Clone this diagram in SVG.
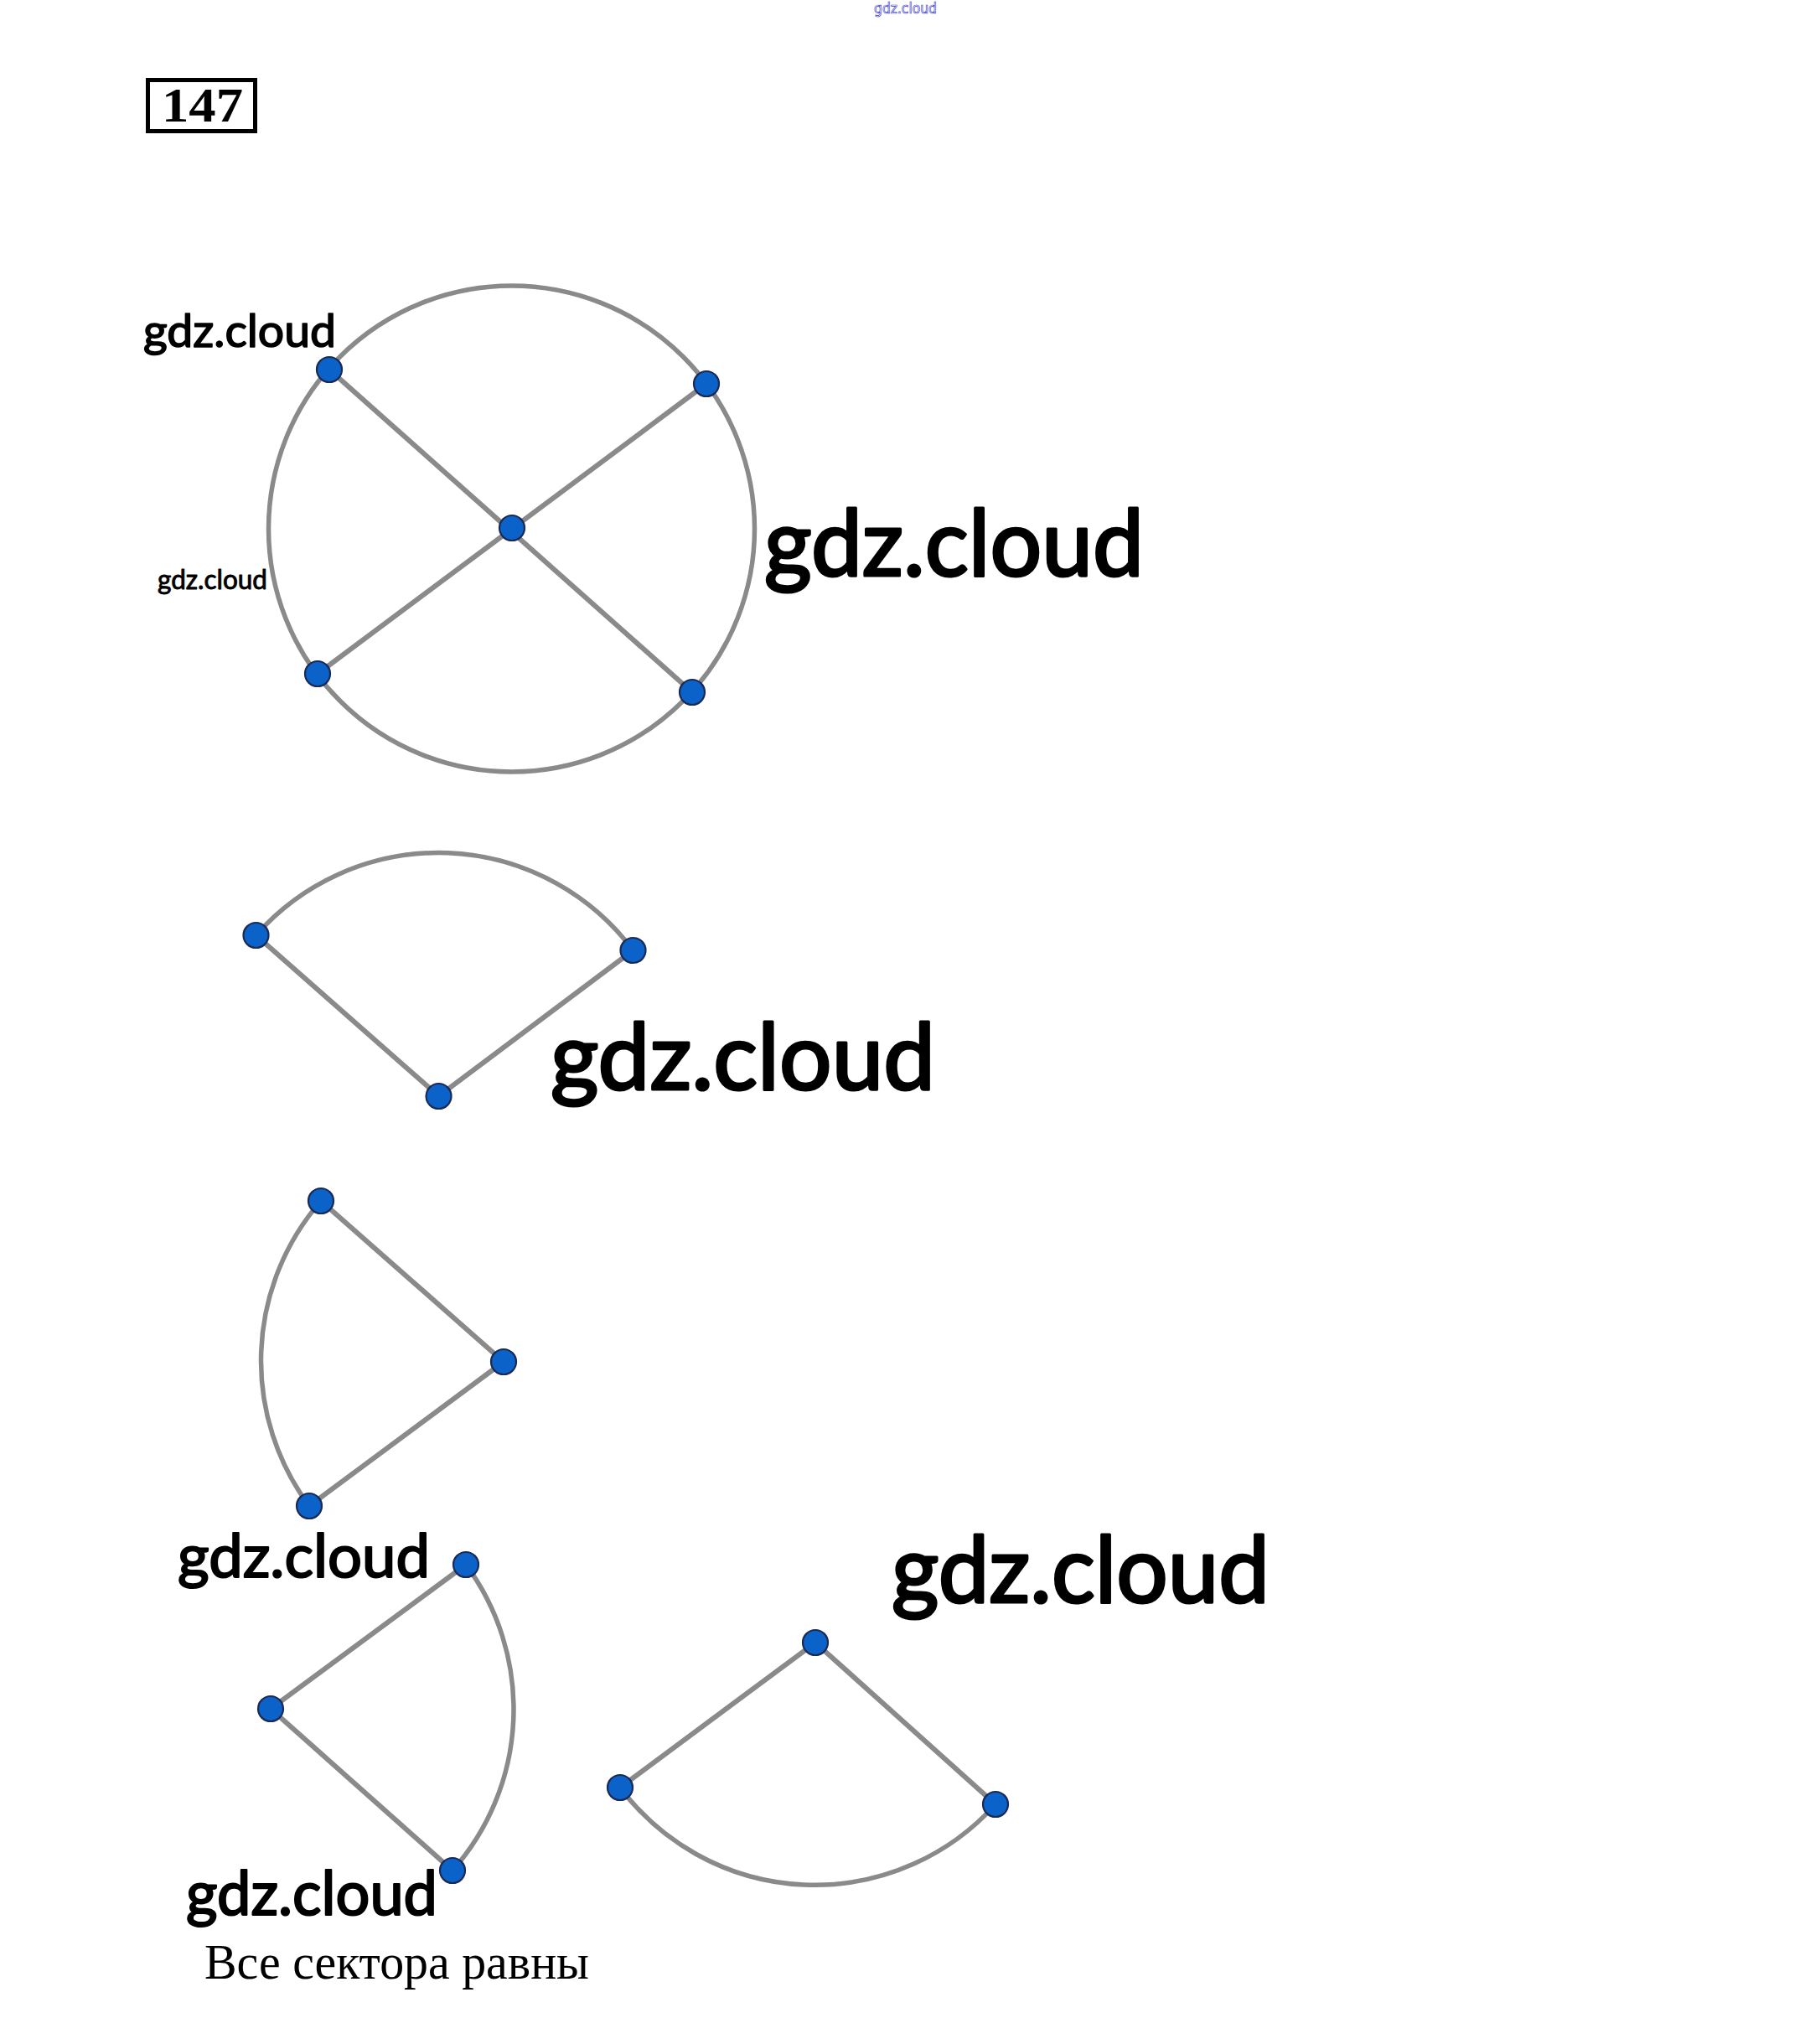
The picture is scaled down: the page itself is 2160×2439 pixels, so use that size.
<svg xmlns="http://www.w3.org/2000/svg" width="2160" height="2439" viewBox="0 0 2160 2439">
<style>
.edge{fill:none;stroke:#8a8a8a;stroke-width:6;stroke-linecap:round}
.arc{fill:none;stroke:#8a8a8a;stroke-width:5.5}
.pt{fill:#0b62c9;stroke:#1b2a55;stroke-width:2.2}
.wm{font-family:Lato,"Open Sans","Liberation Sans",sans-serif;fill:#000;stroke:#000;stroke-linejoin:round}
</style>
<rect width="2160" height="2439" fill="#fff"/>
<text x="1043" y="16" font-family="'DejaVu Sans',sans-serif" font-size="17" fill="#fff" stroke="#3a3acc" stroke-width="0.7" textLength="75" lengthAdjust="spacingAndGlyphs">gdz.cloud</text>
<g id="title">
<rect x="176.5" y="95.5" width="128" height="61" fill="none" stroke="#000" stroke-width="5"/>
<text x="193" y="145" font-family="'Liberation Serif',serif" font-weight="bold" font-size="56" textLength="97" lengthAdjust="spacingAndGlyphs">147</text>
</g>
<g id="connectors">
<circle class="arc" cx="610.5" cy="631" r="290"/>
<line class="edge" x1="393" y1="441" x2="826" y2="826"/>
<line class="edge" x1="843" y1="458" x2="379" y2="804"/>
<path class="arc" d="M305.5 1116 A290 290 0 0 1 755.5 1134"/>
<polyline class="edge" points="305.5,1116 523.5,1308 755.5,1134"/>
<path class="arc" d="M383 1433 A290 290 0 0 0 369 1797"/>
<polyline class="edge" points="383,1433 601,1625 369,1797"/>
<path class="arc" d="M556 1867 A290 290 0 0 1 540 2232"/>
<polyline class="edge" points="556,1867 323,2039 540,2232"/>
<path class="arc" d="M740 2133 A290 290 0 0 0 1188 2153"/>
<polyline class="edge" points="740,2133 973,1960 1188,2153"/>
</g>
<g id="circle-nodes">
<circle id="c-tl" class="pt" cx="393" cy="441" r="15"/>
<circle id="c-tr" class="pt" cx="843" cy="458" r="15"/>
<circle id="c-c" class="pt" cx="611" cy="630" r="15"/>
<circle id="c-bl" class="pt" cx="379" cy="804" r="15"/>
<circle id="c-br" class="pt" cx="826" cy="826" r="15"/>
</g>
<g id="sector1-nodes">
<circle class="pt" cx="305.5" cy="1116" r="15"/>
<circle class="pt" cx="755.5" cy="1134" r="15"/>
<circle class="pt" cx="523.5" cy="1308" r="15"/>
</g>
<g id="sector2-nodes">
<circle class="pt" cx="383" cy="1433" r="15"/>
<circle class="pt" cx="601" cy="1625" r="15"/>
<circle class="pt" cx="369" cy="1797" r="15"/>
</g>
<g id="sector3-nodes">
<circle class="pt" cx="556" cy="1867" r="15"/>
<circle class="pt" cx="323" cy="2039" r="15"/>
<circle class="pt" cx="540" cy="2232" r="15"/>
</g>
<g id="sector4-nodes">
<circle class="pt" cx="973" cy="1960" r="15"/>
<circle class="pt" cx="740" cy="2133" r="15"/>
<circle class="pt" cx="1188" cy="2153" r="15"/>
</g>
<g id="watermarks">
<text class="wm" x="171" y="414" font-size="55" stroke-width="1.6" textLength="230" lengthAdjust="spacingAndGlyphs">gdz.cloud</text>
<text class="wm" x="188" y="703" font-size="32" stroke-width="0.9" textLength="131" lengthAdjust="spacingAndGlyphs">gdz.cloud</text>
<text class="wm" x="912" y="687" font-size="110" stroke-width="3.2" textLength="453" lengthAdjust="spacingAndGlyphs">gdz.cloud</text>
<text class="wm" x="657" y="1300" font-size="110" stroke-width="3.2" textLength="459" lengthAdjust="spacingAndGlyphs">gdz.cloud</text>
<text class="wm" x="212" y="1882" font-size="72" stroke-width="2.1" textLength="301" lengthAdjust="spacingAndGlyphs">gdz.cloud</text>
<text class="wm" x="1064" y="1912" font-size="110" stroke-width="3.2" textLength="451" lengthAdjust="spacingAndGlyphs">gdz.cloud</text>
<text class="wm" x="222" y="2285" font-size="74" stroke-width="2.2" textLength="300" lengthAdjust="spacingAndGlyphs">gdz.cloud</text>
</g>
<text id="caption" x="244" y="2361" font-family="'Liberation Serif','Times New Roman',serif" font-size="60" textLength="459" lengthAdjust="spacingAndGlyphs">Все сектора равны</text>
</svg>
